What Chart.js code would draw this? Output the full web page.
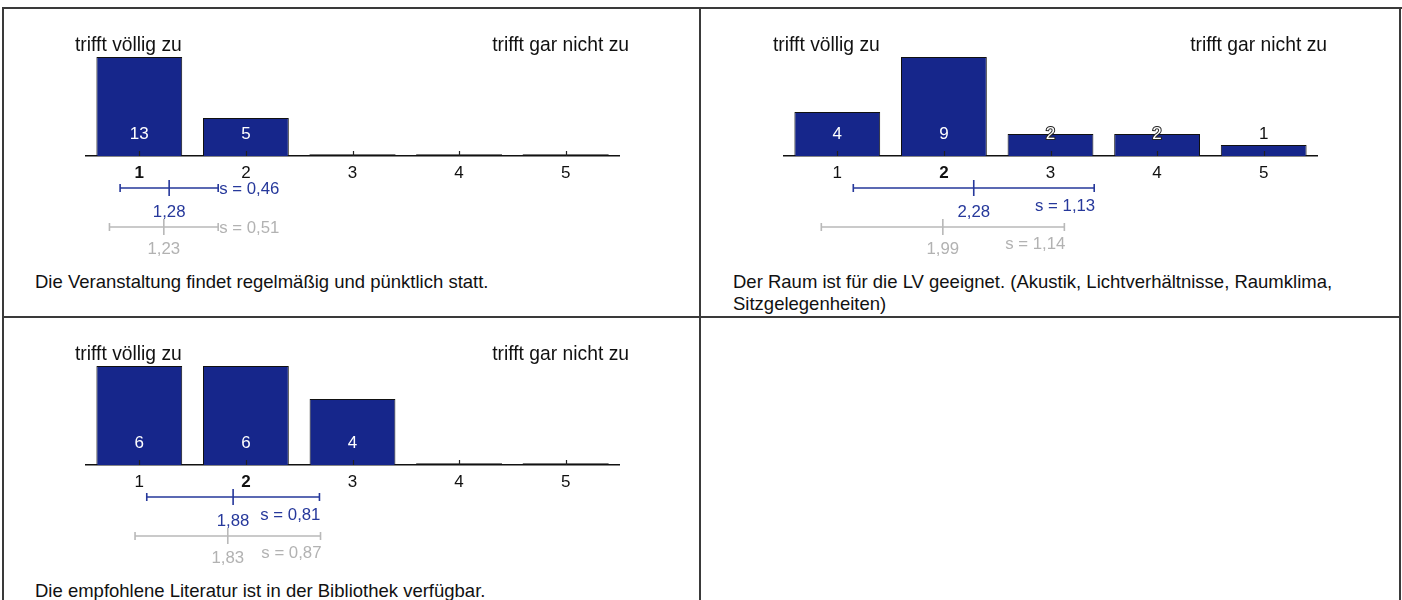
<!DOCTYPE html>
<html>
<head>
<meta charset="utf-8">
<script src="https://cdn.jsdelivr.net/npm/chart.js@4.4.1/dist/chart.umd.min.js"></script>
<style>
  html, body { margin: 0; padding: 0; background: #fff; }
  body { width: 1402px; height: 600px; position: relative; overflow: hidden; font-family: "Liberation Sans", Arial, sans-serif; }
  .line { position: absolute; background: #3a3a3a; }
  .panel { position: absolute; }
  .q { position: absolute; font-size: 18.5px; line-height: 22px; color: #111; }
  canvas { position: absolute; left: 0; top: 0; }
</style>
</head>
<body>
<div class="line" style="left:2px; top:7px; width:1400px; height:2px;"></div>
<div class="line" style="left:2px; top:7px; width:2px; height:593px;"></div>
<div class="line" style="left:699px; top:7px; width:2px; height:593px;"></div>
<div class="line" style="left:1399px; top:7px; width:2px; height:593px;"></div>
<div class="line" style="left:2px; top:316px; width:1399px; height:2px;"></div>

<div class="panel" id="p0" style="left:3px; top:9px; width:697px; height:300px;"><canvas id="c0" width="697" height="255"></canvas><div class="q" id="q0" style="left:32px; top:262px; width:640px;"></div></div>
<div class="panel" id="p1" style="left:701px; top:9px; width:697px; height:300px;"><canvas id="c1" width="697" height="255"></canvas><div class="q" id="q1" style="left:32px; top:262px; width:640px;"></div></div>
<div class="panel" id="p2" style="left:3px; top:318px; width:697px; height:282px;"><canvas id="c2" width="697" height="255"></canvas><div class="q" id="q2" style="left:32px; top:262px; width:640px;"></div></div>

<script>
// ---------- data ----------
const categories = ['1', '2', '3', '4', '5'];
const questions = [
  'Die Veranstaltung findet regelmäßig und pünktlich statt.',
  'Der Raum ist für die LV geeignet. (Akustik, Lichtverhältnisse, Raumklima, Sitzgelegenheiten)',
  'Die empfohlene Literatur ist in der Bibliothek verfügbar.'
];
const counts1 = [13, 5, 0, 0, 0];
const counts2 = [4, 9, 2, 2, 1];
const counts3 = [6, 6, 4, 0, 0];
const meanCourse = [1.28, 2.28, 1.88];
const sdCourse = [0.46, 1.13, 0.81];
const meanRef = [1.23, 1.99, 1.83];
const sdRef = [0.51, 1.14, 0.87];
const leftLabel = 'trifft völlig zu';
const rightLabel = 'trifft gar nicht zu';

const allCounts = [counts1, counts2, counts3];

const BAR = '#16268b';
const BLUE = '#26389b';
const GRAY = '#b9b9b9';
const GRAYTXT = '#b2b2b2';
const FONT = '"Liberation Sans", Arial, sans-serif';

function fmt(v) { return v.toFixed(2).replace('.', ','); }

function medianIndex(counts) {
  const n = counts.reduce((a, b) => a + b, 0);
  const half = n / 2;
  let acc = 0;
  for (let i = 0; i < counts.length; i++) {
    acc += counts[i];
    if (acc >= half) return i;
  }
  return 0;
}

const overlayPlugin = {
  id: 'overlay',
  afterDatasetsDraw(chart) {
    const ctx = chart.ctx;
    const xs = chart.scales.x;
    const area = chart.chartArea;
    const axisY = area.bottom;
    const p = chart.options.plugins.overlay;
    const counts = chart.data.datasets[0].data;
    const meta = chart.getDatasetMeta(0);

    ctx.save();
    // zero-height bars shown as a thin grey strip on the axis
    ctx.strokeStyle = '#777';
    ctx.lineWidth = 1;
    for (let i = 0; i < counts.length; i++) {
      if (counts[i]) continue;
      const bar = meta.data[i];
      ctx.beginPath();
      ctx.moveTo(bar.x - bar.width / 2, axisY - 1.5);
      ctx.lineTo(bar.x + bar.width / 2, axisY - 1.5);
      ctx.stroke();
    }
    // small tick marks at category centres
    ctx.strokeStyle = '#222';
    ctx.lineWidth = 1.2;
    for (let i = 0; i < counts.length; i++) {
      const x = Math.round(xs.getPixelForValue(i)) + 0.5;
      ctx.beginPath();
      ctx.moveTo(x, axisY);
      ctx.lineTo(x, axisY - 5);
      ctx.stroke();
    }

    // value labels
    ctx.font = '17px ' + FONT;
    ctx.textAlign = 'center';
    ctx.textBaseline = 'middle';
    const ly = axisY - 22;
    for (let i = 0; i < counts.length; i++) {
      if (!counts[i]) continue;
      const bar = meta.data[i];
      const x = xs.getPixelForValue(i);
      const top = bar.y;
      const txt = String(counts[i]);
      if (top <= ly - 9) {
        ctx.fillStyle = '#fff';
        ctx.fillText(txt, x, ly);
      } else if (top <= ly + 6) {
        ctx.lineWidth = 2;
        ctx.strokeStyle = '#222';
        ctx.strokeText(txt, x, ly);
        ctx.fillStyle = '#fff';
        ctx.fillText(txt, x, ly);
      } else {
        ctx.fillStyle = '#111';
        ctx.fillText(txt, x, ly);
      }
    }

    // top labels
    ctx.font = '19.3px ' + FONT;
    ctx.fillStyle = '#111';
    ctx.textBaseline = 'middle';
    ctx.textAlign = 'left';
    ctx.fillText(leftLabel, area.left - 11, 37);
    ctx.textAlign = 'right';
    ctx.fillText(rightLabel, area.right + 10, 37);

    // error bars
    function errorBar(mean, sd, y, lineColor, textColor, meanOff, sOff) {
      const xm = xs.getPixelForValue(mean - 1);
      const xl = xs.getPixelForValue(mean - sd - 1);
      const xr = xs.getPixelForValue(mean + sd - 1);
      ctx.strokeStyle = lineColor;
      ctx.lineWidth = 1.6;
      ctx.beginPath();
      ctx.moveTo(xl, y); ctx.lineTo(xr, y);
      ctx.moveTo(xl, y - 4); ctx.lineTo(xl, y + 4);
      ctx.moveTo(xr, y - 4); ctx.lineTo(xr, y + 4);
      ctx.moveTo(xm, y - 8); ctx.lineTo(xm, y + 8);
      ctx.stroke();
      ctx.font = '16.8px ' + FONT;
      ctx.fillStyle = textColor;
      ctx.textBaseline = 'middle';
      const mt = fmt(mean);
      const st = 's = ' + fmt(sd);
      ctx.textAlign = 'center';
      ctx.fillText(mt, xm, y + meanOff);
      const sw = ctx.measureText(st).width;
      const mw = ctx.measureText(mt).width;
      if (xr - xm >= sw + mw / 2 + 4) {
        ctx.textAlign = 'right';
        ctx.fillText(st, xr + 1, y + sOff);
      } else {
        ctx.textAlign = 'left';
        ctx.fillText(st, xr + 1, y + 1);
      }
    }
    errorBar(p.mean, p.sd, axisY + 32, BLUE, BLUE, 24, 18);
    errorBar(p.refMean, p.refSd, axisY + 71, GRAY, GRAYTXT, 22, 17);
    ctx.restore();
  }
};

function makeChart(idx) {
  const counts = allCounts[idx];
  const med = medianIndex(counts);
  const maxVal = Math.max(...counts);
  document.getElementById('q' + idx).textContent = questions[idx];
  new Chart(document.getElementById('c' + idx), {
    type: 'bar',
    data: {
      labels: categories,
      datasets: [{
        data: counts,
        backgroundColor: BAR,
        borderColor: '#111',
        borderWidth: 1,
        barPercentage: 1.0,
        categoryPercentage: 0.805
      }]
    },
    options: {
      responsive: false,
      animation: false,
      devicePixelRatio: 1,
      layout: { padding: { left: 83, right: 81, top: 48, bottom: 78 } },
      plugins: {
        legend: { display: false },
        tooltip: { enabled: false },
        overlay: { mean: meanCourse[idx], sd: sdCourse[idx], refMean: meanRef[idx], refSd: sdRef[idx] }
      },
      scales: {
        y: { display: false, min: 0, max: maxVal },
        x: {
          offset: true,
          grid: { display: false, drawTicks: false },
          border: { display: true, color: '#111', width: 1.5 },
          afterFit: (s) => { s.height = 30; },
          ticks: {
            padding: 7,
            color: '#111',
            font: (c) => ({ family: FONT, size: 17, weight: c.index === med ? 'bold' : 'normal' })
          }
        }
      }
    },
    plugins: [overlayPlugin]
  });
}

[0, 1, 2].forEach(makeChart);
</script>
</body>
</html>
